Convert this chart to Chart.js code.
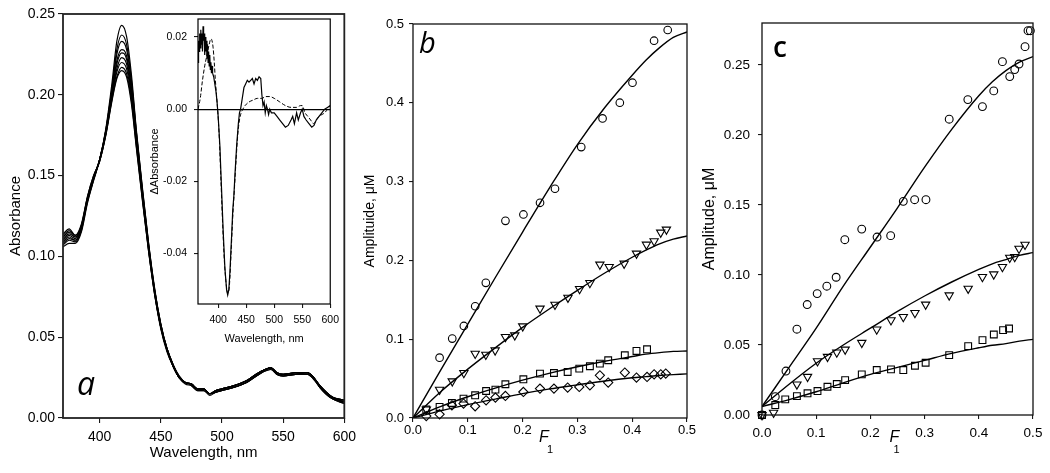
<!DOCTYPE html>
<html lang="en">
<head>
<meta charset="UTF-8">
<title>Absorbance spectra and amplitudes</title>
<script src="https://cdn.jsdelivr.net/npm/chart.js@4.4.1/dist/chart.umd.min.js"></script>
<style>
    html, body { margin: 0; padding: 0; background: #fff; }
    .wrap { position: relative; width: 1050px; height: 473px; overflow: hidden; }
    .wrap canvas { position: absolute; top: 0; }
</style>
</head>
<body>
<div class="wrap">
    <canvas id="chartA" width="362" height="473" style="left:0px"></canvas>
    <canvas id="chartB" width="345" height="473" style="left:355px"></canvas>
    <canvas id="chartC" width="350" height="473" style="left:700px"></canvas>
    <canvas id="chartInset" width="197" height="355" style="left:148px"></canvas>
</div>
<script>
// ---- panel a: absorbance spectra ----
const aWave = [370,375,380,385,390,395,400,405,410,414,418,422,426,430,435,440,445,450,455,460,465,470,475,480,485,490,495,500,510,520,530,540,545,550,560,570,575,580,590,600];
const aSpec1 = [0.106,0.108,0.108,0.115,0.133,0.147,0.160,0.179,0.207,0.233,0.243,0.236,0.212,0.178,0.142,0.108,0.079,0.058,0.043,0.033,0.025,0.021,0.020,0.017,0.017,0.014,0.016,0.017,0.019,0.022,0.027,0.030,0.027,0.026,0.027,0.027,0.024,0.019,0.012,0.009];
const aSpec2 = [0.107,0.110,0.109,0.116,0.134,0.147,0.160,0.178,0.204,0.228,0.237,0.231,0.209,0.177,0.141,0.108,0.080,0.058,0.043,0.033,0.025,0.022,0.020,0.017,0.017,0.015,0.016,0.017,0.019,0.022,0.027,0.030,0.027,0.026,0.027,0.027,0.024,0.019,0.012,0.009];
const aSpec3 = [0.108,0.111,0.110,0.117,0.134,0.148,0.160,0.178,0.203,0.225,0.233,0.228,0.207,0.176,0.140,0.107,0.079,0.058,0.043,0.033,0.026,0.022,0.021,0.018,0.018,0.015,0.016,0.017,0.019,0.022,0.027,0.031,0.027,0.026,0.027,0.028,0.025,0.019,0.012,0.010];
const aSpec4 = [0.109,0.112,0.110,0.117,0.135,0.148,0.160,0.177,0.201,0.221,0.228,0.224,0.204,0.174,0.139,0.106,0.078,0.057,0.043,0.033,0.026,0.022,0.021,0.018,0.018,0.015,0.016,0.017,0.019,0.022,0.027,0.031,0.027,0.026,0.027,0.028,0.025,0.019,0.012,0.010];
const aSpec5 = [0.110,0.113,0.111,0.118,0.135,0.148,0.160,0.177,0.200,0.219,0.226,0.222,0.202,0.173,0.138,0.106,0.078,0.057,0.042,0.032,0.025,0.022,0.021,0.018,0.018,0.015,0.016,0.018,0.020,0.023,0.028,0.031,0.028,0.027,0.028,0.028,0.025,0.020,0.013,0.010];
const aSpec6 = [0.111,0.114,0.112,0.118,0.136,0.149,0.160,0.176,0.199,0.216,0.223,0.219,0.200,0.171,0.137,0.105,0.077,0.056,0.042,0.032,0.025,0.022,0.021,0.018,0.018,0.015,0.017,0.018,0.020,0.023,0.028,0.031,0.028,0.027,0.028,0.028,0.025,0.020,0.013,0.010];
const aSpec7 = [0.112,0.115,0.112,0.119,0.136,0.149,0.159,0.176,0.198,0.214,0.220,0.216,0.198,0.170,0.136,0.104,0.077,0.056,0.042,0.032,0.025,0.022,0.021,0.018,0.018,0.015,0.017,0.018,0.020,0.023,0.028,0.031,0.028,0.027,0.028,0.028,0.025,0.020,0.013,0.011];
const aSpec8 = [0.113,0.116,0.113,0.119,0.137,0.150,0.159,0.175,0.197,0.211,0.217,0.213,0.196,0.168,0.135,0.103,0.076,0.056,0.042,0.032,0.025,0.022,0.021,0.018,0.018,0.015,0.017,0.018,0.020,0.023,0.028,0.031,0.028,0.027,0.028,0.028,0.025,0.020,0.013,0.011];
const aSpec9 = [0.114,0.117,0.113,0.120,0.137,0.150,0.159,0.175,0.196,0.210,0.215,0.211,0.194,0.167,0.134,0.103,0.076,0.055,0.041,0.032,0.025,0.022,0.021,0.018,0.018,0.015,0.017,0.018,0.020,0.023,0.028,0.031,0.028,0.027,0.028,0.028,0.025,0.020,0.013,0.011];
const aXTicks = [400, 450, 500, 550, 600];
const aYTicks = [0, 0.05, 0.10, 0.15, 0.20, 0.25];

// ---- inset: difference spectra ----
const insetSolidX = [364,365,366,367,368,369,370,371,372,373,374,375,376,377,378,379,380,381,382,383,384,385,386,387,388,389,390,392,394,396,398,400,403,406,409,412,415,417,419,421,424,426,428,430,433,436,438,440,443,446,449,452,455,458,461,464,467,470,473,476,478,480,482,484,486,488,490,492,495,500,505,510,515,520,525,530,533,536,540,543,547,550,553,557,562,567,571,575,580,585,590,595,600];
const insetSolidY = [0.013,0.019,0.016,0.021,0.017,0.022,0.018,0.021,0.016,0.023,0.019,0.021,0.015,0.020,0.016,0.019,0.014,0.018,0.013,0.016,0.012,0.015,0.011,0.013,0.010,0.012,0.010,0.009,0.007,0.005,0.002,-0.002,-0.010,-0.022,-0.034,-0.044,-0.050,-0.0515,-0.050,-0.045,-0.035,-0.028,-0.024,-0.018,-0.010,-0.004,-0.001,0.000,0.003,0.006,0.007,0.008,0.0075,0.008,0.0085,0.007,0.0085,0.008,0.009,0.0085,0.004,0.001,0.002,-0.001,0.001,0.000,-0.0015,0.000,-0.001,-0.001,-0.002,-0.003,-0.004,-0.005,-0.0045,-0.003,-0.002,-0.004,-0.001,-0.003,-0.001,0.000,-0.002,-0.003,-0.004,-0.005,-0.0045,-0.003,-0.002,-0.001,0.000,0.0005,0.001];
const insetDashX = [364,368,372,376,380,384,387,389,391,393,395,397,399,402,405,408,411,414,417,420,423,426,429,432,435,438,441,444,448,455,462,470,478,485,492,500,510,520,530,540,547,550,555,560,565,570,575,580,590,600];
const insetDashY = [0.000,0.003,0.008,0.012,0.015,0.018,0.0195,0.019,0.017,0.013,0.008,0.004,0.000,-0.008,-0.020,-0.032,-0.042,-0.048,-0.051,-0.049,-0.040,-0.030,-0.022,-0.014,-0.007,-0.003,-0.001,0.000,0.001,0.002,0.0025,0.003,0.003,0.0035,0.0035,0.003,0.002,0.001,0.0005,0.0005,0.001,0.001,-0.001,-0.002,-0.003,-0.004,-0.003,-0.002,-0.001,0.001];
const insetXTicks = [400, 450, 500, 550, 600];
const insetYTicks = [0.02, 0, -0.02, -0.04];

// ---- panel b ----
const bCircleX = [0.0485,0.0716,0.0928,0.1135,0.1329,0.1687,0.2015,0.2318,0.2591,0.307,0.3459,0.3774,0.4005,0.4399,0.4648];
const bCircleY = [0.0766,0.1008,0.1168,0.1418,0.1715,0.2502,0.2583,0.2731,0.2909,0.3438,0.3802,0.4001,0.4255,0.4788,0.4924];
const bTriX = [0.0243,0.0485,0.0716,0.0928,0.1135,0.1329,0.1499,0.1687,0.1857,0.2002,0.2318,0.2591,0.2828,0.304,0.3228,0.341,0.358,0.3853,0.4078,0.426,0.44,0.452,0.4624];
const bTriY = [0.011,0.036,0.0466,0.0572,0.0817,0.0804,0.0859,0.1029,0.105,0.1164,0.1389,0.1439,0.1528,0.1638,0.1715,0.1948,0.1918,0.196,0.2087,0.2201,0.2244,0.2354,0.2392];
const bSquareX = [0.0242,0.0485,0.071,0.0922,0.1134,0.1334,0.1504,0.1686,0.2014,0.2317,0.2572,0.2822,0.3034,0.3228,0.341,0.3562,0.3865,0.4078,0.4271];
const bSquareY = [0.0107,0.014,0.019,0.0246,0.0288,0.0343,0.036,0.0428,0.0491,0.0563,0.0571,0.0584,0.0627,0.0657,0.069,0.0733,0.0796,0.0851,0.0872];
const bDiamondX = [0.0242,0.0485,0.071,0.0922,0.1134,0.1334,0.1504,0.1686,0.2014,0.2317,0.2572,0.2822,0.3034,0.3228,0.341,0.3562,0.3865,0.4078,0.4271,0.44,0.4521,0.4612];
const bDiamondY = [0.0025,0.0047,0.0161,0.0183,0.0149,0.0225,0.0259,0.028,0.033,0.0373,0.0373,0.0386,0.0394,0.0415,0.0542,0.045,0.0577,0.0513,0.0521,0.0555,0.0555,0.0564];
const bFitX = [0,0.05,0.1,0.15,0.2,0.25,0.3,0.35,0.4,0.425,0.45,0.475,0.5];
const bCircleFit = [0,0.060,0.119,0.178,0.236,0.293,0.347,0.394,0.435,0.454,0.470,0.483,0.490];
const bTriFit = [0,0.033,0.062,0.089,0.115,0.139,0.162,0.184,0.204,0.213,0.221,0.227,0.231];
const bSquareFit = [0,0.0145,0.027,0.038,0.048,0.057,0.065,0.072,0.078,0.081,0.083,0.0845,0.085];
const bDiamondFit = [0,0.009,0.017,0.024,0.031,0.037,0.042,0.047,0.051,0.0525,0.054,0.055,0.056];
const bXTicks = [0, 0.1, 0.2, 0.3, 0.4, 0.5];
const bYTicks = [0, 0.1, 0.2, 0.3, 0.4, 0.5];

// ---- panel c ----
const cCircleX = [0,0.0245,0.0442,0.0644,0.0834,0.1018,0.1196,0.1368,0.1528,0.184,0.2123,0.2374,0.2607,0.2816,0.3025,0.3454,0.3798,0.4067,0.4276,0.4436,0.4571,0.4663,0.4742,0.4853,0.4908,0.4951];
const cCircleY = [0,0.0131,0.0314,0.0613,0.0789,0.0867,0.092,0.0984,0.1252,0.1328,0.1271,0.1281,0.1526,0.1538,0.1538,0.2113,0.2253,0.2203,0.2315,0.2524,0.2417,0.2467,0.2507,0.2631,0.2745,0.2745];
const cTriX = [0,0.0214,0.0644,0.084,0.1024,0.1208,0.138,0.1534,0.1841,0.2117,0.238,0.2607,0.2822,0.3019,0.3454,0.3804,0.4067,0.4276,0.4436,0.4571,0.4663,0.4742,0.4853];
const cTriY = [0,0.0017,0.0219,0.0273,0.0385,0.0416,0.0447,0.0468,0.0516,0.0611,0.0677,0.0701,0.0729,0.0789,0.0855,0.0903,0.0986,0.1005,0.1058,0.1124,0.1129,0.1188,0.1217];
const cSquareX = [0,0.0245,0.0429,0.0644,0.084,0.1024,0.1208,0.138,0.1534,0.1841,0.2117,0.238,0.2607,0.2822,0.3019,0.3454,0.3804,0.4068,0.4277,0.4448,0.4558];
const cSquareY = [0,0.0071,0.0112,0.0135,0.0155,0.0171,0.0202,0.0221,0.0249,0.029,0.0321,0.0326,0.0321,0.0352,0.0373,0.0428,0.0492,0.0535,0.0575,0.0606,0.0618];
const cFitX = [0,0.05,0.1,0.15,0.2,0.25,0.3,0.35,0.4,0.425,0.45,0.475,0.5];
const cCircleFit = [0.006,0.034,0.062,0.092,0.120,0.148,0.177,0.204,0.228,0.238,0.246,0.252,0.256];
const cTriFit = [0.006,0.022,0.037,0.050,0.062,0.074,0.085,0.095,0.104,0.108,0.111,0.114,0.116];
const cSquareFit = [0.006,0.011,0.0166,0.023,0.029,0.034,0.039,0.044,0.048,0.0498,0.051,0.0528,0.054];
const cXTicks = [0, 0.1, 0.2, 0.3, 0.4, 0.5];
const cYTicks = [0, 0.05, 0.10, 0.15, 0.20, 0.25];

const FONT = "'Liberation Sans', Arial, sans-serif";

const pts = (xs, ys) => xs.map((x, i) => ({ x: x, y: ys[i] }));

// box around the plot area
const framePlugin = {
    id: 'frame',
    afterDraw(chart, args, opts) {
        const { ctx, chartArea: a } = chart;
        ctx.save();
        ctx.strokeStyle = opts.color || '#000';
        ctx.lineWidth = opts.width || 1;
        ctx.strokeRect(a.left, a.top, a.right - a.left, a.bottom - a.top);
        ctx.restore();
    }
};

// panel letters and the F1 axis label
const textPlugin = {
    id: 'texts',
    afterDraw(chart, args, opts) {
        const { ctx, chartArea: a } = chart;
        (opts.items || []).forEach(t => {
            const x0 = t.ax === 'center' ? (a.left + a.right) / 2 : a.left;
            const y0 = t.ay === 'bottom' ? a.bottom : a.top;
            ctx.save();
            ctx.font = t.font;
            ctx.fillStyle = '#000';
            ctx.textAlign = 'left';
            ctx.textBaseline = 'alphabetic';
            ctx.fillText(t.text, x0 + t.dx, y0 + t.dy);
            ctx.restore();
        });
    }
};

function axis(o) {
    return {
        type: 'linear',
        bounds: 'data',
        min: o.min,
        max: o.max,
        afterBuildTicks: s => { s.ticks = o.ticks.map(v => ({ value: v })); },
        afterFit: s => {
            if (s.isHorizontal()) s.height = o.size; else s.width = o.size;
        },
        border: { display: false },
        grid: {
            drawOnChartArea: !!o.zeroLine,
            color: c => (o.zeroLine && c.tick && c.tick.value === 0) ? '#000' : 'rgba(0,0,0,0)',
            lineWidth: 1.2,
            drawTicks: true,
            tickLength: o.tickLen,
            tickColor: '#000',
            tickWidth: 1
        },
        ticks: {
            color: '#000',
            font: { family: FONT, size: o.fontSize },
            padding: o.pad,
            autoSkip: false,
            maxRotation: 0,
            callback: v => Number(v).toFixed(o.dec)
        },
        title: {
            display: !!o.title,
            text: o.title,
            color: '#000',
            font: { family: FONT, size: o.titleSize || 14 },
            padding: { top: o.tpad || 0, bottom: o.tpad || 0 }
        }
    };
}

function baseOptions(padding, xAxis, yAxis, frame, items) {
    return {
        responsive: false,
        animation: false,
        devicePixelRatio: 1,
        events: [],
        layout: { padding: padding },
        plugins: {
            legend: { display: false },
            tooltip: { enabled: false },
            frame: frame,
            texts: { items: items }
        },
        scales: { x: xAxis, y: yAxis }
    };
}

function spectrum(ys) {
    return {
        data: pts(aWave, ys),
        showLine: true,
        borderColor: '#000',
        borderWidth: 1.2,
        pointRadius: 0,
        cubicInterpolationMode: 'monotone'
    };
}

function fit(xs, ys) {
    return {
        data: pts(xs, ys),
        showLine: true,
        borderColor: '#000',
        borderWidth: 1.4,
        pointRadius: 0,
        cubicInterpolationMode: 'monotone'
    };
}

function marker(xs, ys, style, r, rot) {
    return {
        data: pts(xs, ys),
        showLine: false,
        pointStyle: style,
        pointRadius: r,
        pointRotation: rot || 0,
        pointBorderColor: '#000',
        pointBackgroundColor: 'rgba(0,0,0,0)',
        pointBorderWidth: 1.1,
        clip: false
    };
}

// panel a
new Chart(document.getElementById('chartA'), {
    type: 'scatter',
    data: {
        datasets: [aSpec1, aSpec2, aSpec3, aSpec4, aSpec5, aSpec6, aSpec7, aSpec8, aSpec9].map(s => spectrum(s))
    },
    options: baseOptions(
        { left: 0, right: 15, top: 14, bottom: 0 },
        axis({ min: 370, max: 600, ticks: aXTicks, size: 55, tickLen: 5, pad: 6, fontSize: 14, dec: 0,
               title: 'Wavelength, nm', titleSize: 15, tpad: 11 }),
        axis({ min: 0, max: 0.25, ticks: aYTicks, size: 63, tickLen: 5, pad: 3, fontSize: 14, dec: 2,
               title: 'Absorbance', titleSize: 15, tpad: 7 }),
        { color: '#222', width: 1.8 },
        [{ text: 'a', font: "italic 32px 'Open Sans', sans-serif", ax: 'left', ay: 'bottom', dx: 14, dy: -23 }]
    ),
    plugins: [framePlugin, textPlugin]
});

// inset of panel a
new Chart(document.getElementById('chartInset'), {
    type: 'scatter',
    data: {
        datasets: [
            { data: pts(insetSolidX, insetSolidY), showLine: true, borderColor: '#000', borderWidth: 1.2, pointRadius: 0, tension: 0 },
            { data: pts(insetDashX, insetDashY), showLine: true, borderColor: '#000', borderWidth: 1, borderDash: [4, 2], pointRadius: 0, cubicInterpolationMode: 'monotone' }
        ]
    },
    options: baseOptions(
        { left: 0, right: 10, top: 19, bottom: 0 },
        axis({ min: 364, max: 600, ticks: insetXTicks, size: 51, tickLen: 4, pad: 6, fontSize: 10.5, dec: 0,
               title: 'Wavelength, nm', titleSize: 11, tpad: 9 }),
        axis({ min: -0.054, max: 0.025, ticks: insetYTicks, size: 50, tickLen: 4, pad: 7, fontSize: 10.5, dec: 2,
               title: '\u0394Absorbance', titleSize: 11, tpad: 0, zeroLine: true }),
        { color: '#000', width: 1.2 },
        []
    ),
    plugins: [framePlugin, textPlugin]
});

// panel b
new Chart(document.getElementById('chartB'), {
    type: 'scatter',
    data: {
        datasets: [
            fit(bFitX, bCircleFit),
            fit(bFitX, bTriFit),
            fit(bFitX, bSquareFit),
            fit(bFitX, bDiamondFit),
            marker(bCircleX, bCircleY, 'circle', 3.8),
            marker(bTriX, bTriY, 'triangle', 4.8, 180),
            marker(bSquareX, bSquareY, 'rect', 4.8),
            marker(bDiamondX, bDiamondY, 'rectRot', 4.6)
        ]
    },
    options: baseOptions(
        { left: 0, right: 13, top: 24, bottom: 0 },
        axis({ min: 0, max: 0.5, ticks: bXTicks, size: 55, tickLen: 4, pad: 1, fontSize: 13, dec: 1 }),
        axis({ min: 0, max: 0.5, ticks: bYTicks, size: 58, tickLen: 4, pad: 5, fontSize: 13, dec: 1,
               title: 'Amplituide, \u03bcM', titleSize: 14, tpad: 7 }),
        { color: '#111', width: 1.3 },
        [
            { text: 'b', font: "italic 29px 'Open Sans', sans-serif", ax: 'left', ay: 'top', dx: 6, dy: 29 },
            { text: 'F', font: 'italic 16px ' + FONT, ax: 'center', ay: 'bottom', dx: -11, dy: 24 },
            { text: '1', font: '11px ' + FONT, ax: 'center', ay: 'bottom', dx: -3, dy: 35 }
        ]
    ),
    plugins: [framePlugin, textPlugin]
});

// panel c
new Chart(document.getElementById('chartC'), {
    type: 'scatter',
    data: {
        datasets: [
            fit(cFitX, cCircleFit),
            fit(cFitX, cTriFit),
            fit(cFitX, cSquareFit),
            marker(cCircleX, cCircleY, 'circle', 3.9),
            marker(cTriX, cTriY, 'triangle', 4.8, 180),
            marker(cSquareX, cSquareY, 'rect', 4.8)
        ]
    },
    options: baseOptions(
        { left: 0, right: 17, top: 23, bottom: 0 },
        axis({ min: 0, max: 0.5, ticks: cXTicks, size: 58, tickLen: 4, pad: 6, fontSize: 13.5, dec: 1 }),
        axis({ min: 0, max: 0.28, ticks: cYTicks, size: 62, tickLen: 4, pad: 8, fontSize: 13.5, dec: 2,
               title: 'Amplitude, \u03bcM', titleSize: 16, tpad: 0 }),
        { color: '#111', width: 1.3 },
        [
            { text: 'c', font: "600 28px 'Open Sans', sans-serif", ax: 'left', ay: 'top', dx: 11, dy: 34 },
            { text: 'F', font: 'italic 16px ' + FONT, ax: 'center', ay: 'bottom', dx: -8, dy: 27 },
            { text: '1', font: '11px ' + FONT, ax: 'center', ay: 'bottom', dx: -4, dy: 38 }
        ]
    ),
    plugins: [framePlugin, textPlugin]
});
</script>
</body>
</html>
